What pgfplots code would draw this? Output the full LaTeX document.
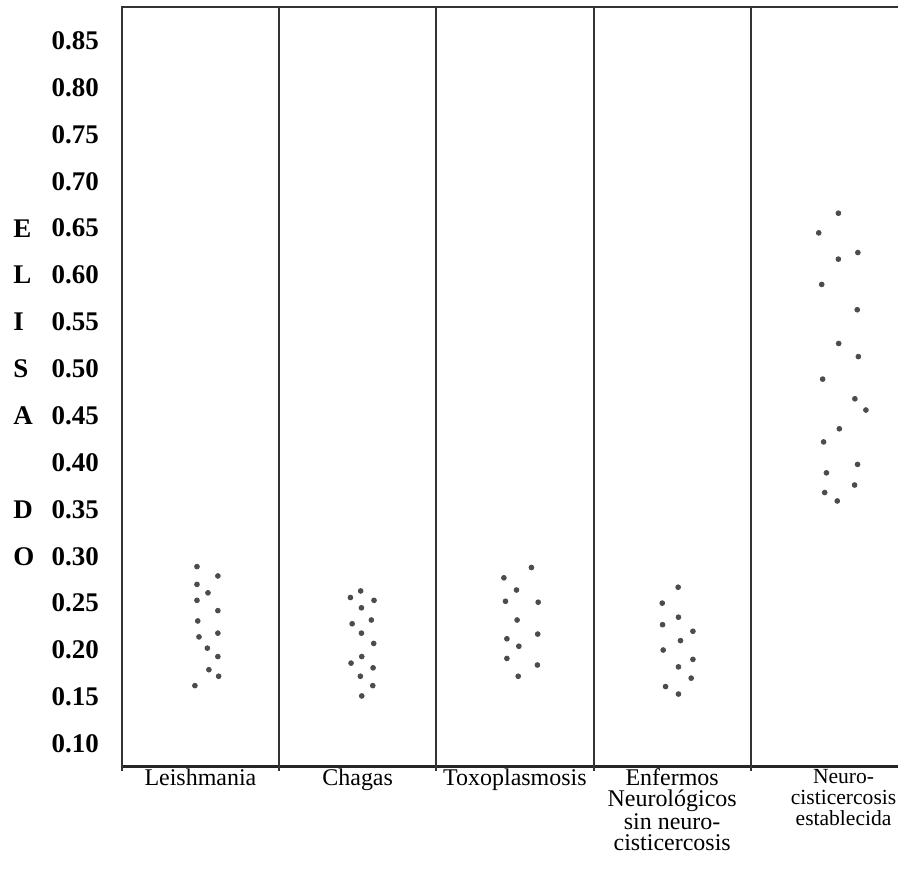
\documentclass[border=0pt]{standalone}
\usepackage{fontspec}
\setmainfont{Liberation Serif}
\usepackage{pgfplots}
\pgfplotsset{compat=1.18}
\begin{document}
\begin{tikzpicture}[letter/.style={anchor=west, inner sep=0pt, font=\fontsize{13.5}{16}\selectfont\bfseries}]
\begin{axis}[
  scale only axis, width=388.5pt, height=380.5pt,
  xmin=0.5, xmax=5.433, ymin=0.0755, ymax=0.886,
  axis line style={draw=none},
  clip=false,
  ytick={0.10,0.15,0.20,0.25,0.30,0.35,0.40,0.45,0.50,0.55,0.60,0.65,0.70,0.75,0.80,0.85},
  /pgf/number format/assume math mode=true,
  y tick label style={/pgf/number format/fixed, /pgf/number format/fixed zerofill, /pgf/number format/precision=2, font=\fontsize{13.5}{16}\selectfont\bfseries, xshift=-8pt},
  xtick={1,2,3,4,5.09},
  xticklabels={Leishmania, Chagas, Toxoplasmosis, {Enfermos\\Neurológicos\\sin neuro-\\cisticercosis}, {\fontsize{10.8}{10.2}\selectfont Neuro-\\\fontsize{10.8}{10.2}\selectfont cisticercosis\\\fontsize{10.8}{10.2}\selectfont establecida}},
  x tick label style={align=center, font=\fontsize{12}{10.5}\selectfont, anchor=north, inner sep=1pt},
  major tick length=0pt,
  tick style={draw=none},
]
\path ([xshift=-61pt,yshift=-54.5pt]rel axis cs:0,0) rectangle ([yshift=3.5pt]rel axis cs:1,1);
\draw[line width=1.5pt, black!85] ([xshift=-0.5pt]rel axis cs:0,0) -- (rel axis cs:1,0);
\draw[line width=1pt, black!80] ([yshift=-2pt]rel axis cs:0,0) -- (rel axis cs:0,1) -- (rel axis cs:1,1);
\draw[line width=1pt, black!80] ([yshift=-2pt]axis cs:1.5,0.0755) -- (axis cs:1.5,0.886);
\draw[line width=1pt, black!80] ([yshift=-2pt]axis cs:2.5,0.0755) -- (axis cs:2.5,0.886);
\draw[line width=1pt, black!80] ([yshift=-2pt]axis cs:3.5,0.0755) -- (axis cs:3.5,0.886);
\draw[line width=1pt, black!80] ([yshift=-2pt]axis cs:4.5,0.0755) -- (axis cs:4.5,0.886);
\addplot[only marks, mark=*, mark size=1.2pt, color=black!70] table {
x y
0.978 0.289
1.111 0.279
0.978 0.270
1.048 0.261
0.978 0.253
1.111 0.242
0.983 0.231
1.111 0.218
0.991 0.214
1.044 0.202
1.111 0.193
1.054 0.179
1.116 0.172
0.965 0.162
2.019 0.263
1.954 0.256
2.104 0.253
2.024 0.245
2.087 0.232
1.965 0.228
2.024 0.218
2.102 0.207
2.026 0.193
1.958 0.186
2.098 0.181
2.017 0.172
2.096 0.162
2.026 0.151
3.105 0.288
2.930 0.277
3.010 0.264
2.940 0.252
3.148 0.251
3.014 0.232
3.145 0.217
2.949 0.212
3.025 0.204
2.949 0.191
3.143 0.184
3.021 0.172
4.038 0.267
3.937 0.250
4.040 0.235
3.939 0.227
4.132 0.220
4.053 0.210
3.943 0.200
4.132 0.190
4.040 0.182
4.121 0.170
3.958 0.161
4.040 0.153
5.057 0.666
4.932 0.645
5.181 0.624
5.057 0.617
4.951 0.590
5.177 0.563
5.059 0.527
5.184 0.513
4.957 0.489
5.162 0.468
5.232 0.456
5.063 0.436
4.963 0.422
5.179 0.398
4.981 0.389
5.160 0.376
4.970 0.368
5.050 0.359
};
\node[letter] at ([xshift=-54.5pt]axis cs:0.5,0.65) {E};
\node[letter] at ([xshift=-54.5pt]axis cs:0.5,0.60) {L};
\node[letter] at ([xshift=-54.5pt]axis cs:0.5,0.55) {I};
\node[letter] at ([xshift=-54.5pt]axis cs:0.5,0.50) {S};
\node[letter] at ([xshift=-54.5pt]axis cs:0.5,0.45) {A};
\node[letter] at ([xshift=-54.5pt]axis cs:0.5,0.35) {D};
\node[letter] at ([xshift=-54.5pt]axis cs:0.5,0.30) {O};
\end{axis}
\end{tikzpicture}
\end{document}
